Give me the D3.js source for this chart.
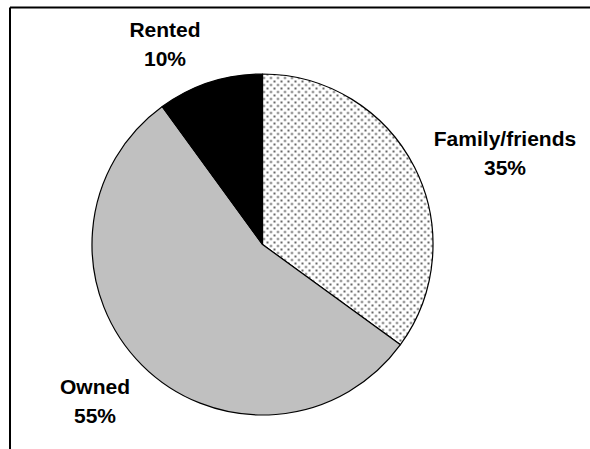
<!DOCTYPE html>
<html>
<head>
<meta charset="utf-8">
<script src="https://cdn.jsdelivr.net/npm/d3@7"></script>
<style>
  body { margin: 0; background: #fff; }
  svg { display: block; }
</style>
</head>
<body>
<div id="chart"></div>
<script>
// data
var categories = ["Family/friends", "Owned", "Rented"];
var shares = [35, 55, 10];
var pctLabels = ["35%", "55%", "10%"];

var width = 590, height = 449;
var cx = 262.5, cy = 244.5, radius = 170.5;

var svg = d3.select("#chart").append("svg")
    .attr("width", width)
    .attr("height", height);

// dotted fill for Family/friends
var defs = svg.append("defs");
var pat = defs.append("pattern")
    .attr("id", "dots")
    .attr("patternUnits", "userSpaceOnUse")
    .attr("width", 7)
    .attr("height", 7);
pat.append("rect").attr("width", 7).attr("height", 7).attr("fill", "#fff");
pat.append("circle").attr("cx", 1.5).attr("cy", 1.5).attr("r", 1.1).attr("fill", "#444");
pat.append("circle").attr("cx", 5).attr("cy", 5).attr("r", 1.1).attr("fill", "#444");

// frame (only top and left edges visible)
svg.append("line")
    .attr("x1", 10).attr("y1", 7.5).attr("x2", width).attr("y2", 7.5)
    .attr("stroke", "#000").attr("stroke-width", 2);
svg.append("line")
    .attr("x1", 10).attr("y1", 7.5).attr("x2", 10).attr("y2", height)
    .attr("stroke", "#000").attr("stroke-width", 2);

var fills = d3.scaleOrdinal()
    .domain(categories)
    .range(["url(#dots)", "#c0c0c0", "#000"]);

var pie = d3.pie().sort(null).value(function(d){ return d; });
var arc = d3.arc().innerRadius(0).outerRadius(radius);

var slices = pie(shares);

var g = svg.append("g")
    .attr("transform", "translate(" + cx + "," + cy + ")");

g.selectAll("path")
    .data(slices)
    .enter()
    .append("path")
    .attr("d", arc)
    .attr("fill", function(d, i){ return fills(categories[i]); })
    .attr("stroke", "#000")
    .attr("stroke-width", 1.2)
    .attr("stroke-linejoin", "round");

// label positions (outside the pie)
var labelPos = [
  {x: 505, y: 146},
  {x: 95, y: 394},
  {x: 165, y: 37}
];

var labels = svg.append("g")
    .attr("font-family", "Arial, 'Liberation Sans', sans-serif")
    .attr("font-weight", "bold")
    .attr("font-size", 21)
    .attr("text-anchor", "middle")
    .attr("fill", "#000");

categories.forEach(function(c, i){
  var t = labels.append("text")
      .attr("x", labelPos[i].x)
      .attr("y", labelPos[i].y);
  t.append("tspan").attr("x", labelPos[i].x).text(c);
  t.append("tspan").attr("x", labelPos[i].x).attr("dy", 29).text(pctLabels[i]);
});
</script>
</body>
</html>
